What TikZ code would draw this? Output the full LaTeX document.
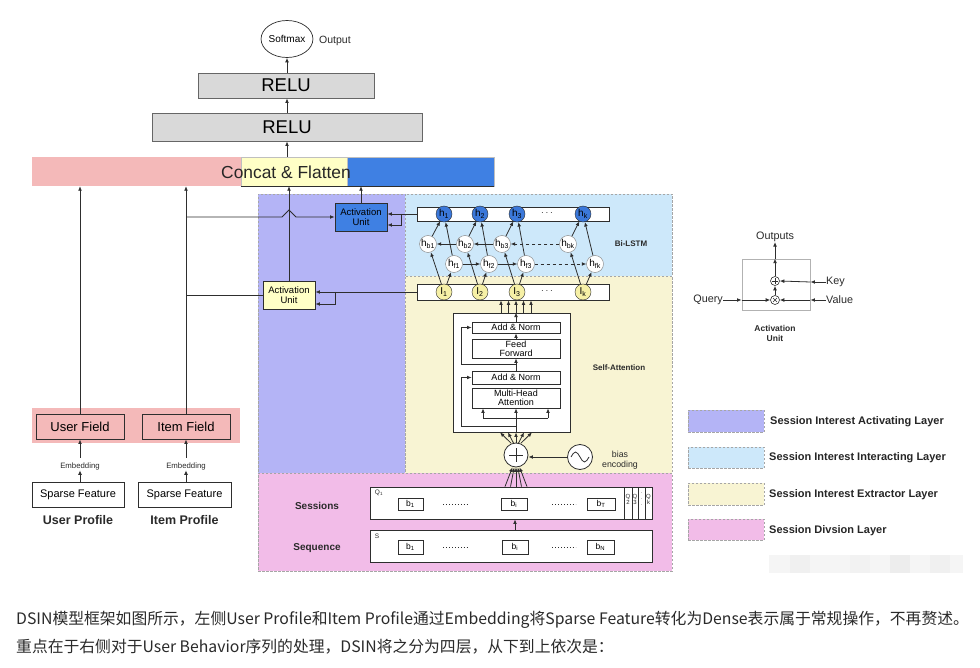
\documentclass[tikz,border=0pt]{standalone}
\usepackage{fontspec}
\setmainfont{Liberation Sans}
\newfontfamily\cjk{Noto Sans CJK SC}
\usetikzlibrary{arrows.meta,shapes.geometric,calc}
\definecolor{lc}{HTML}{2E2E2E}
\definecolor{cpurple}{HTML}{B4B4F6}
\definecolor{clblue}{HTML}{CDE8FA}
\definecolor{clyel}{HTML}{F8F4D3}
\definecolor{clpink}{HTML}{F2BCE8}
\definecolor{cpink}{HTML}{F4B9B9}
\definecolor{cyel}{HTML}{FFFFC6}
\definecolor{cblue}{HTML}{3F80E3}
\definecolor{hblue}{HTML}{3B78DA}
\definecolor{iyel}{HTML}{F6F0A6}
\definecolor{relu}{HTML}{D9D9D9}
\definecolor{txt}{HTML}{2A2A2A}
\tikzset{
  fs/.style={font=\fontsize{#1}{#1}\selectfont},
  fsb/.style={font=\fontsize{#1}{#1}\selectfont\bfseries},
  fsc/.style={font=\fontsize{#1}{#1}\selectfont\cjk},
  ln/.style={draw=lc, line width=0.8pt},
  arr/.style={ln, -{Latex[length=4.5pt,width=3.8pt]}},
  box/.style={draw=lc, line width=0.8pt, inner sep=0pt, rectangle, align=center},
  region/.style={draw=gray!70, dash pattern=on 2.5pt off 1.5pt, line width=0.6pt, inner sep=0pt},
  hcirc/.style={circle, draw=lc, fill=hblue, minimum size=16pt, inner sep=0pt, fs=10},
  gcirc/.style={circle, draw=gray, fill=white, minimum size=17pt, inner sep=0pt, fs=10},
  icirc/.style={circle, draw=lc, fill=iyel, minimum size=16pt, inner sep=0pt, fs=10},
  bbox/.style={box, fill=white, minimum height=12pt, fs=8.5},
  lbl/.style={inner sep=0pt, align=center, text=txt},
}
\begin{document}
\begin{tikzpicture}[x=1pt,y=-1pt]
\fill[white] (0,0) rectangle (980,668);
\useasboundingbox (0,0) rectangle (980,668);

% ---------- regions ----------
\node[region, fill=cpurple, minimum width=147pt, minimum height=279pt] (actreg) at (331.5,333.5) {};
\node[region, fill=clblue, minimum width=267pt, minimum height=82pt] (intreg) at (538.5,235) {};
\node[region, fill=clyel, minimum width=267pt, minimum height=197pt] (extreg) at (538.5,374.5) {};
\node[region, fill=clpink, minimum width=414pt, minimum height=98pt] (divreg) at (465,522) {};

% ---------- top ----------
\node[ellipse, draw=lc, line width=0.7pt, fill=white, minimum width=44pt, minimum height=37pt, inner sep=0pt, fs=10] (softmax) at (287,39) {Softmax};
\node[lbl, fs=10.5, anchor=west] (output) at (319,41) {Output};
\node[box, draw=gray!80!black, fill=relu, minimum width=176pt, minimum height=25pt, fs=18.5] (relu1) at (286,85.5) {RELU};
\node[box, draw=gray!80!black, fill=relu, minimum width=270pt, minimum height=28pt, fs=18.5] (relu2) at (287,127) {RELU};

\node[fill=cpink, inner sep=0pt, minimum width=209pt, minimum height=29pt] (cpk) at (136.5,171.5) {};
\node[fill=cyel, draw=gray!50, line width=0.4pt, inner sep=0pt, minimum width=106pt, minimum height=29pt] (cyl) at (294,171.5) {};
\node[fill=cblue, draw=gray!50, line width=0.4pt, inner sep=0pt, minimum width=147pt, minimum height=29pt] (cbl) at (420.5,171.5) {};
\draw[lc, line width=1pt] (cyl.south west) -- (cbl.south east);
\node[lbl, fs=17.4, text=black!85] (concat) at (286,172) {Concat \& Flatten};

\draw[arr] (relu1.north -| softmax.south) -- (softmax.south);
\draw[arr] (relu2.north) -- (relu2.north |- relu1.south);
\draw[arr] (relu2.south |- cyl.north) -- (relu2.south);

% ---------- left profile ----------
\node[fill=cpink, inner sep=0pt, minimum width=208pt, minimum height=35pt] (fieldbg) at (136,425.5) {};
\node[box, fill=cpink, minimum width=88pt, minimum height=25pt, fs=13] (ufield) at (80,426.5) {User Field};
\node[box, fill=cpink, minimum width=88pt, minimum height=25pt, fs=13] (ifield) at (186,426.5) {Item Field};
\node[lbl, fs=7.8] (uemb) at (80,466.5) {Embedding};
\node[lbl, fs=7.8] (iemb) at (186,466.5) {Embedding};
\node[box, fill=white, minimum width=92pt, minimum height=25pt, fs=11] (usp) at (78,494.5) {Sparse Feature};
\node[box, fill=white, minimum width=93pt, minimum height=25pt, fs=11] (isp) at (184.5,494.5) {Sparse Feature};
\node[lbl, fsb=12.5] (uprof) at (78,520) {User Profile};
\node[lbl, fsb=12.5] (iprof) at (184.5,520) {Item Profile};

\draw[arr] (usp.north -| uemb.south) -- (uemb.south);
\draw[arr] (isp.north -| iemb.south) -- (iemb.south);
\draw[arr, shorten <=5pt] (uemb.north) -- (uemb.north |- ufield.south);
\draw[arr, shorten <=5pt] (iemb.north) -- (iemb.north |- ifield.south);
\draw[arr] (ufield.north) -- (ufield.north |- cpk.south);
\draw[arr] (ifield.north) -- (ifield.north |- cpk.south);

% ---------- activation units ----------
\node[box, fill=cblue, minimum width=52pt, minimum height=28pt, fs=9.5] (bau) at (361,217) {Activation\\[1pt]Unit};
\node[box, fill=cyel, minimum width=52pt, minimum height=28pt, fs=9.5] (yau) at (289,295) {Activation\\[1pt]Unit};
\draw[arr] (bau.north) -- (bau.north |- cbl.south);
\draw[arr] (yau.north) -- (yau.north |- cyl.south);
\draw[arr] (ifield.north |- bau.west) -- ($(yau.north |- bau.west)+(-7,0)$) -- ($(yau.north |- bau.west)+(0,-7)$) -- ($(yau.north |- bau.west)+(7,0)$) -- (bau.west);
\draw[ln] (ifield.north |- yau.west) -- (yau.west);

% ---------- Bi-LSTM ----------
\node[box, fill=white, minimum width=192pt, minimum height=14pt] (hbar) at (513,214) {};
\node[box, fill=white, minimum width=192pt, minimum height=16pt] (ibar) at (513,292) {};
\node[hcirc] (h1) at (444,214) {h\textsubscript{1}};
\node[hcirc] (h2) at (480,214) {h\textsubscript{2}};
\node[hcirc] (h3) at (517,214) {h\textsubscript{3}};
\node[hcirc] (hk) at (583,214) {h\textsubscript{k}};
\node[lbl, fs=10] (hdots) at (547,213) {$\cdots$};
\node[gcirc] (hb1) at (428,244) {h\textsubscript{b1}};
\node[gcirc] (hb2) at (465,244) {h\textsubscript{b2}};
\node[gcirc] (hb3) at (502,244) {h\textsubscript{b3}};
\node[gcirc] (hbk) at (568,244) {h\textsubscript{bk}};
\node[gcirc] (hf1) at (454,264) {h\textsubscript{f1}};
\node[gcirc] (hf2) at (489,264) {h\textsubscript{f2}};
\node[gcirc] (hf3) at (526,264) {h\textsubscript{f3}};
\node[gcirc] (hfk) at (595,264) {h\textsubscript{fk}};
\node[icirc] (i1) at (444,292) {I\textsubscript{1}};
\node[icirc] (i2) at (480,292) {I\textsubscript{2}};
\node[icirc] (i3) at (517,292) {I\textsubscript{3}};
\node[icirc] (ik) at (583,292) {I\textsubscript{k}};
\node[lbl, fs=10] (idots) at (547,291) {$\cdots$};
\foreach \j in {1,2,3,k}{
  \draw[arr] (i\j) -- (hb\j);
  \draw[arr] (i\j) -- (hf\j);
  \draw[arr] (hb\j) -- (h\j);
  \draw[arr] (hf\j) -- (h\j);
}
\draw[arr] (hb2) -- (hb1);
\draw[arr] (hb3) -- (hb2);
\draw[arr, dashed] (hbk) -- (hb3);
\draw[arr] (hf1) -- (hf2);
\draw[arr] (hf2) -- (hf3);
\draw[arr, dashed] (hf3) -- (hfk);
\node[lbl, fsb=8] (bilstm) at (631,244) {Bi-LSTM};

\draw[arr] (hbar.west) -- (hbar.west -| bau.east);
\draw[arr] ($(hbar.west)+(-15,0)$) |- ($(bau.east)+(0,8)$);
\draw[arr] (ibar.west) -- (ibar.west -| yau.east);
\draw[arr] ($(ibar.west -| yau.east)+(20,0)$) |- ($(yau.east)+(0,9)$);

% ---------- Self-attention ----------
\node[box, fill=white, minimum width=117pt, minimum height=119pt] (sabox) at (512,372.5) {};
\node[box, fill=white, minimum width=88pt, minimum height=11pt, fs=9] (an1) at (516,327.5) {Add \& Norm};
\node[box, fill=white, minimum width=88pt, minimum height=19pt, fs=9] (ff) at (516,348.5) {Feed\\Forward};
\node[box, fill=white, minimum width=88pt, minimum height=13pt, fs=9] (an2) at (516,377.5) {Add \& Norm};
\node[box, fill=white, minimum width=88pt, minimum height=20pt, fs=9] (mha) at (516,398) {Multi-Head\\Attention};
\node[lbl, fsb=8] (salbl) at (619,368) {Self-Attention};

\coordinate (sab) at (an1.north |- sabox.south);
\coordinate (mhl) at ($(sab)+(0,-14)$);
\draw[ln] (sab) -- (mhl);
\draw[ln] ($(mhl)+(-33,0)$) -- ($(mhl)+(32,0)$);
\draw[arr] ($(mhl)+(-33,0)$) -- ($(mha.south)+(-33,0)$);
\draw[arr] (mhl) -- (mha.south);
\draw[arr] ($(mhl)+(32,0)$) -- ($(mha.south)+(32,0)$);
\draw[arr] ($(sab)+(0,-6)$) -| ($(an2.west)+(-10,0)$) -- (an2.west);
\draw[arr] (an2.north) -- (ff.south);
\draw[arr] ($(an2.north)+(0,-6)$) -| ($(an1.west)+(-10,0)$) -- (an1.west);
\draw[arr] (ff.north) -- (an1.south);
\draw[arr] (an1.north) -- (an1.north |- sabox.north);
\foreach \k in {-2,-1,0,1,2}{
  \draw[arr] ($(an1.north |- sabox.north)+(\k*7.5,0)$) -- ($(an1.north |- ibar.south)+(\k*7.5,0)$);
}

\node[circle, draw=lc, line width=0.8pt, fill=white, minimum size=24pt, inner sep=0pt] (plus) at (516,455) {};
\draw[lc, line width=0.9pt] ($(plus.center)+(-7,0)$) -- ($(plus.center)+(7,0)$);
\draw[lc, line width=0.9pt] ($(plus.center)+(0,-7)$) -- ($(plus.center)+(0,7)$);
\node[circle, draw=lc, line width=0.8pt, fill=white, minimum size=25pt, inner sep=0pt] (sine) at (580,457) {};
\draw[lc, line width=0.8pt] ($(sine.center)+(-9,0)$) sin ($(sine.center)+(-4.5,-5)$) cos ($(sine.center)+(0,0)$) sin ($(sine.center)+(4.5,5)$) cos ($(sine.center)+(9,0)$);
\node[lbl, fs=8.8] (bias) at (620,460.5) {bias\\[1pt]encoding};
\draw[arr] (sine.west) -- (sine.west -| plus.east);
\foreach \k in {-2,-1,0,1,2}{
  \draw[arr] ($(plus.north)+(\k*2.5,0.5)$) -- ($(plus.north |- sabox.south)+(\k*8,0)$);
}

% ---------- sessions / sequence ----------
\node[box, fill=white, minimum width=282pt, minimum height=32pt] (sess) at (511,503) {};
\node[box, fill=white, minimum width=282pt, minimum height=32pt] (seq) at (511,546) {};
\node[lbl, fsb=10] (sesslbl) at (317,506) {Sessions};
\node[lbl, fsb=10] (seqlbl) at (317,548) {Sequence};
\node[lbl, fs=6.5] (q1) at (379,493) {Q\textsubscript{1}};
\node[lbl, fs=6.5] (slbl) at (377,536) {S};
\node[bbox, minimum width=25pt] (sb1) at (410.5,504) {b\textsubscript{1}};
\node[bbox, minimum width=26pt] (sbi) at (514,504) {b\textsubscript{i}};
\node[bbox, minimum width=28pt] (sbt) at (601,504) {b\textsubscript{T}};
\node[bbox, minimum width=25pt, minimum height=14pt] (qb1) at (410.5,547) {b\textsubscript{1}};
\node[bbox, minimum width=26pt, minimum height=14pt] (qbi) at (515,547) {b\textsubscript{i}};
\node[bbox, minimum width=27pt, minimum height=14pt] (qbn) at (600.5,547) {b\textsubscript{N}};
\draw[lc, line width=0.9pt, dotted] ($(sb1.east)+(20,0)$) -- ($(sbi.west)+(-33,0)$);
\draw[lc, line width=0.9pt, dotted] ($(sbi.east)+(25,0)$) -- ($(sbt.west)+(-11,0)$);
\draw[lc, line width=0.9pt, dotted] ($(qb1.east)+(20,0)$) -- ($(qbi.west)+(-34,0)$);
\draw[lc, line width=0.9pt, dotted] ($(qbi.east)+(24,0)$) -- ($(qbn.west)+(-11,0)$);
\foreach \xx in {624,632,638,645}{
  \draw[lc, line width=0.6pt] (\xx,487) -- (\xx,519);
}
\node[lbl, fs=6] (q2) at (628,499) {Q\\2};
\node[lbl, fs=6] (q3) at (635,499) {Q\\3};
\node[lbl, fs=6] (qd) at (641.5,499) {$\cdot$\\$\cdot$\\$\cdot$};
\node[lbl, fs=6] (qk) at (648.5,499) {Q\\k};
\draw[arr] (qbi.north |- seq.north) -- (qbi.north |- sess.south);
\foreach \k in {-2,-1,0,1,2}{
  \draw[arr] ($(plus.south |- sess.north)+(\k*5.5,0)$) -- ($(plus.south)+(\k*1.8,0)$);
}

% ---------- activation unit detail ----------
\node[draw=gray!60, line width=0.8pt, minimum width=68pt, minimum height=51pt, inner sep=0pt] (aubox) at (776,284.5) {};
\node[circle, draw=lc, line width=0.6pt, minimum size=9pt, inner sep=0pt] (aplus) at (775,281) {};
\draw[lc, line width=0.5pt] ($(aplus.center)+(-2.8,0)$) -- ($(aplus.center)+(2.8,0)$) ($(aplus.center)+(0,-2.8)$) -- ($(aplus.center)+(0,2.8)$);
\node[circle, draw=lc, line width=0.6pt, minimum size=9pt, inner sep=0pt] (atimes) at (775,300) {};
\draw[lc, line width=0.5pt] ($(atimes.center)+(-2,-2)$) -- ($(atimes.center)+(2,2)$) ($(atimes.center)+(-2,2)$) -- ($(atimes.center)+(2,-2)$);
\node[lbl, fs=10.8] (outputs) at (775,237) {Outputs};
\node[lbl, fs=10.8, anchor=west] (key) at (826,282) {Key};
\node[lbl, fs=10.8, anchor=west] (value) at (826,300) {Value};
\node[lbl, fs=10.8, anchor=east] (query) at (723,300) {Query};
\node[lbl, fsb=8.5] (aulbl) at (775,333) {Activation\\[1.5pt]Unit};
\draw[arr] (query.east) -- (query.east -| aubox.west);
\draw[arr] (query.east -| aubox.west) -- (atimes.west);
\draw[arr] (value.west) -- (value.west -| aubox.east);
\draw[arr] (value.west -| aubox.east) -- (atimes.east);
\draw[arr] (key.west) -- (key.west -| aubox.east);
\draw[arr] (key.west -| aubox.east) -- (aplus.east);
\draw[arr] (atimes.north) -- (aplus.south);
\draw[arr] (aplus.north) -- (aplus.north |- aubox.north);
\draw[arr] (aplus.north |- aubox.north) -- (outputs.south);

% ---------- legend ----------
\node[region, fill=cpurple, minimum width=76pt, minimum height=22pt] (lg1) at (726,421) {};
\node[region, fill=clblue, minimum width=76pt, minimum height=21pt] (lg2) at (726,457.5) {};
\node[region, fill=clyel, minimum width=76pt, minimum height=22pt] (lg3) at (726,494) {};
\node[region, fill=clpink, minimum width=76pt, minimum height=21pt] (lg4) at (726,529.5) {};
\node[lbl, fsb=11, anchor=west, text=black!85] (lt1) at (770,422) {Session Interest Activating Layer};
\node[lbl, fsb=11, anchor=west, text=black!85] (lt2) at (769,458) {Session Interest Interacting Layer};
\node[lbl, fsb=11, anchor=west, text=black!85] (lt3) at (769,495) {Session Interest Extractor Layer};
\node[lbl, fsb=11, anchor=west, text=black!85] (lt4) at (769,531) {Session Divsion Layer};
% faint strip
\fill[black!4] (769,555) rectangle (963,573);
\fill[black!6] (790,555) rectangle (810,573);
\fill[black!5] (850,555) rectangle (870,573);
\fill[black!7] (890,555) rectangle (910,573);
\fill[black!6] (930,555) rectangle (950,573);

% ---------- bottom text ----------
\node[lbl, anchor=west, fsc=15.8] (line1) at (16,620) {DSIN模型框架如图所示，左侧User Profile和Item Profile通过Embedding将Sparse Feature转化为Dense表示属于常规操作，不再赘述。};
\node[lbl, anchor=west, fsc=15.8] (line2) at (16,647) {重点在于右侧对于User Behavior序列的处理，DSIN将之分为四层，从下到上依次是：};
\end{tikzpicture}
\end{document}
